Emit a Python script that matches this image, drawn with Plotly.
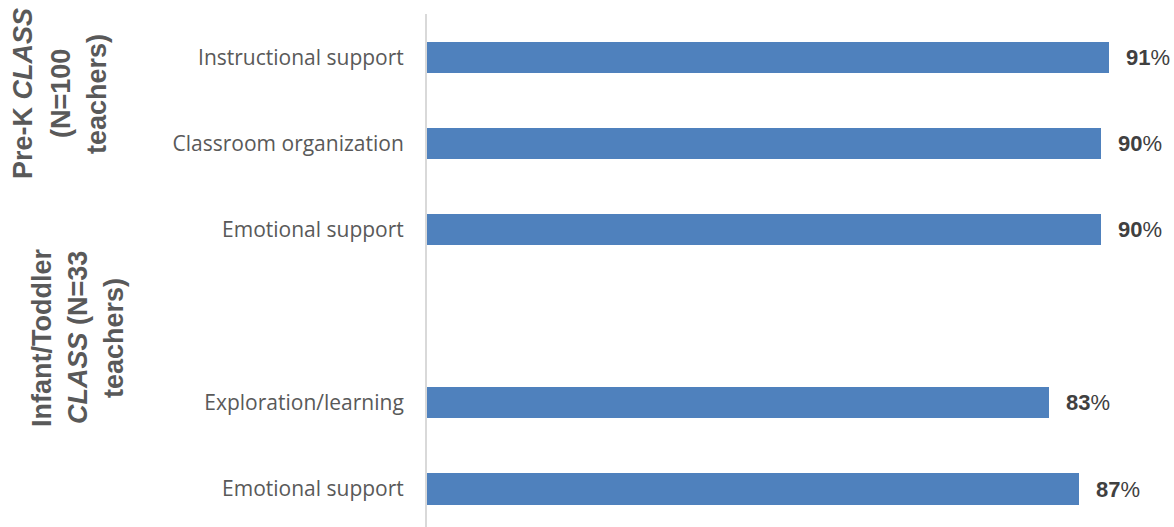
import plotly.graph_objects as go

# Rows from top to bottom; the empty row separates the two CLASS groups
labels = ["Instructional support", "Classroom organization", "Emotional support",
          "", "Exploration/learning", "Emotional support"]
values = [0.91, 0.90, 0.90, None, 0.83, 0.87]

group_prek = ["Pre-K <i>CLASS</i>", "(N=100", "teachers)"]
group_it = ["Infant/Toddler", "<i>CLASS</i> (N=33", "teachers)"]

W, H = 1174, 527
ML, MR, MT, MB = 427, 0, 14, 0
PW, PH = W - ML - MR, H - MT - MB

rows = list(range(len(labels)))
bar_x = [v if v is not None else 0 for v in values]

fig = go.Figure()
fig.add_trace(go.Bar(
    x=bar_x, y=rows, orientation="h", width=0.36,
    marker=dict(color="#4f81bd", line=dict(width=0)),
    hoverinfo="skip",
))

annotations = []
# value labels to the right of each bar
for r, v in zip(rows, values):
    if v is None:
        continue
    annotations.append(dict(
        x=v, y=r, xref="x", yref="y", xanchor="left", yanchor="middle",
        xshift=15, showarrow=False,
        text=f"<b>{round(v * 100)}</b>%",
        font=dict(family="Liberation Sans", size=22, color="#404040"),
    ))


def px_x(px):
    return (px - ML) / PW


def px_y(py):
    return 1 - (py - MT) / PH


# rotated group titles, one annotation per line
for lines, xs, yc in ((group_prek, [23, 61, 97], 94), (group_it, [42, 78, 114], 338)):
    for txt, xc in zip(lines, xs):
        annotations.append(dict(
            x=px_x(xc), y=px_y(yc), xref="paper", yref="paper",
            xanchor="center", yanchor="middle", showarrow=False,
            textangle=-90, text=f"<b>{txt}</b>",
            font=dict(family="Liberation Sans", size=27, color="#595959"),
        ))

fig.update_layout(
    width=W, height=H,
    margin=dict(l=ML, r=MR, t=MT, b=MB, pad=0),
    paper_bgcolor="white", plot_bgcolor="white",
    showlegend=False, bargap=0,
    annotations=annotations,
    xaxis=dict(range=[0, 0.997], visible=False, fixedrange=True),
    yaxis=dict(
        range=[5.44, -0.5],
        tickmode="array", tickvals=rows, ticktext=labels,
        ticks="", ticklabelstandoff=17,
        tickfont=dict(family="Open Sans", size=21, color="#595959"),
        showgrid=False, zeroline=False,
        showline=True, linecolor="#d9d9d9", linewidth=2,
        fixedrange=True,
    ),
)

fig.write_html("out.html")
